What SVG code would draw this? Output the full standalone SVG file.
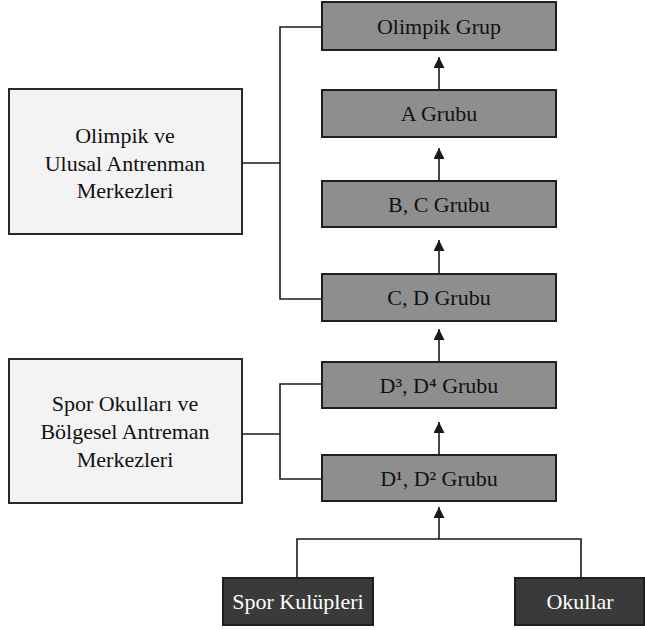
<svg xmlns="http://www.w3.org/2000/svg" width="645" height="630" viewBox="0 0 645 630">
<style>
.g{fill:#8e8e8e;stroke:#1e1e1e;stroke-width:2}
.l{fill:#f3f3f3;stroke:#2a2a2a;stroke-width:2}
.d{fill:#3a3a3a;stroke:#1e1e1e;stroke-width:2}
text{font-family:"Liberation Serif","Times New Roman",serif;font-size:22px;text-anchor:middle;fill:#111111}
.w{fill:#ffffff}
.c{fill:none;stroke:#1a1a1a;stroke-width:1.6}
</style>
<defs>
<marker id="ah" viewBox="0 0 10 10" refX="10" refY="5" markerWidth="11" markerHeight="11" markerUnits="userSpaceOnUse" orient="auto">
<path d="M0,0 L10,5 L0,10 Z" fill="#1a1a1a"/>
</marker>
</defs>
<rect width="645" height="630" fill="#ffffff"/>
<g id="connectors">
<path class="c" d="M439,90 V57" marker-end="url(#ah)"/>
<path class="c" d="M439,181 V148" marker-end="url(#ah)"/>
<path class="c" d="M439,274 V240" marker-end="url(#ah)"/>
<path class="c" d="M439,362 V329" marker-end="url(#ah)"/>
<path class="c" d="M439,455 V422" marker-end="url(#ah)"/>
<path class="c" d="M439,539 V507" marker-end="url(#ah)"/>
<path class="c" d="M297,578 V539 H581 V578"/>
<path class="c" d="M322,27 H280 V299 H322"/>
<path class="c" d="M242,163 H280"/>
<path class="c" d="M322,384 H280 V479 H322"/>
<path class="c" d="M242,434 H280"/>
</g>
<g id="olimpik-grup"><rect class="g" x="322" y="2" width="234" height="48"/><text x="439" y="34">Olimpik Grup</text></g>
<g id="a-grubu"><rect class="g" x="322" y="90" width="234" height="47"/><text x="439" y="121">A Grubu</text></g>
<g id="bc-grubu"><rect class="g" x="322" y="181" width="234" height="46"/><text x="439" y="212">B, C Grubu</text></g>
<g id="cd-grubu"><rect class="g" x="322" y="274" width="234" height="47"/><text x="439" y="305">C, D Grubu</text></g>
<g id="d34-grubu"><rect class="g" x="322" y="362" width="234" height="46"/><text x="439" y="393">D³, D⁴ Grubu</text></g>
<g id="d12-grubu"><rect class="g" x="322" y="455" width="234" height="46"/><text x="439" y="486">D¹, D² Grubu</text></g>
<g id="olimpik-ulusal"><rect class="l" x="9" y="89" width="233" height="145"/>
<text x="125" y="143">Olimpik ve</text><text x="125" y="171">Ulusal Antrenman</text><text x="125" y="198">Merkezleri</text></g>
<g id="spor-okullari"><rect class="l" x="9" y="359" width="233" height="144"/>
<text x="125" y="411">Spor Okulları ve</text><text x="125" y="439">Bölgesel Antreman</text><text x="125" y="467">Merkezleri</text></g>
<g id="spor-kulupleri"><rect class="d" x="223" y="578" width="150" height="47"/><text class="w" x="298" y="609">Spor Kulüpleri</text></g>
<g id="okullar"><rect class="d" x="515" y="578" width="129" height="47"/><text class="w" x="580" y="609">Okullar</text></g>
</svg>
